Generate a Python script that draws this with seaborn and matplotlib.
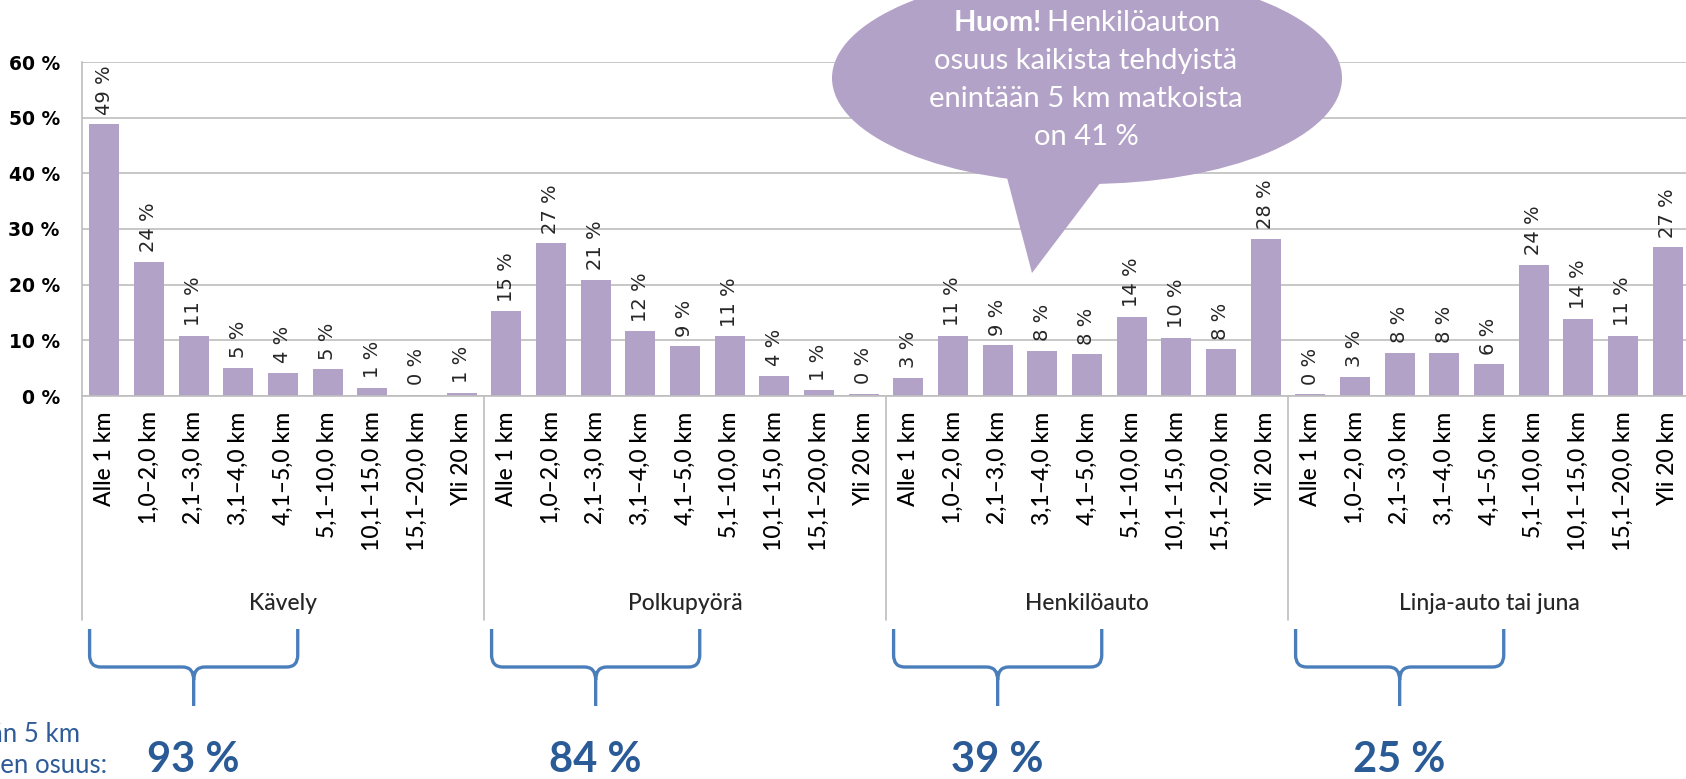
import numpy as np
import pandas as pd
import matplotlib
matplotlib.use('Agg')
import matplotlib.pyplot as plt
import seaborn as sns
from matplotlib.patches import Ellipse, Polygon, PathPatch
from matplotlib.path import Path
from matplotlib.transforms import blended_transform_factory

# data (share of trips, %)
groups = ['Kävely', 'Polkupyörä', 'Henkilöauto', 'Linja-auto tai juna']
distances = ['Alle 1 km', '1,0–2,0 km', '2,1–3,0 km', '3,1–4,0 km', '4,1–5,0 km',
             '5,1–10,0 km', '10,1–15,0 km', '15,1–20,0 km', 'Yli 20 km']
walk = [48.8, 24.1, 10.8, 5.1, 4.2, 4.8, 1.4, 0.2, 0.6]
bike = [15.2, 27.4, 20.9, 11.6, 8.9, 10.7, 3.6, 1.0, 0.4]
car = [3.2, 10.8, 9.1, 8.1, 7.5, 14.2, 10.5, 8.4, 28.2]
transit = [0.3, 3.4, 7.8, 7.8, 5.7, 23.6, 13.8, 10.8, 26.7]
short_share = [93, 84, 39, 25]
y_ticks = [0, 10, 20, 30, 40, 50, 60]

W, H = 1686, 779
purple = '#B3A2C7'
grid_col = '#BEBEBE'
blue = '#2B5B97'

sns.set_theme(style='white')
plt.rcParams['font.family'] = ['Lato', 'DejaVu Sans']
plt.rcParams['mathtext.fontset'] = 'custom'
plt.rcParams['mathtext.rm'] = 'Lato'
plt.rcParams['mathtext.bf'] = 'Lato:bold'

df = pd.DataFrame({
    'group': np.repeat(groups, len(distances)),
    'distance': distances * len(groups),
    'share': walk + bike + car + transit,
})
df['pos'] = np.arange(len(df))

fig = plt.figure(figsize=(W / 100, H / 100), dpi=100)
ax = fig.add_axes([82 / W, 1 - 396 / H, 1608 / W, 334 / H])
sns.barplot(data=df, x='pos', y='share', color=purple, saturation=1,
            width=0.67, linewidth=0, ax=ax)

ax.set_xlim(-0.5, len(df) - 0.5)
ax.set_ylim(0, 60)
ax.set_axisbelow(True)
ax.yaxis.grid(True, color=grid_col, linewidth=1.2)
ax.xaxis.grid(False)
for s in ['top', 'right']:
    ax.spines[s].set_visible(False)
for s in ['left', 'bottom']:
    ax.spines[s].set_color(grid_col)
    ax.spines[s].set_linewidth(1.2)

ax.set_yticks(y_ticks)
ax.set_yticklabels([f'{t} %' for t in y_ticks], fontweight='bold',
                   fontsize=13.5, family='DejaVu Sans')
ax.set_xticks(df['pos'])
ax.set_xticklabels(df['distance'], rotation=90, fontsize=16.5, fontweight='medium')
ax.tick_params(axis='y', length=0, pad=16, colors='black')
ax.tick_params(axis='x', length=0, pad=11, colors='black')
ax.set_xlabel('')
ax.set_ylabel('')

# value labels
ax.bar_label(ax.containers[0], labels=[f'{v:.0f} %' for v in df['share']],
             rotation=90, padding=7, fontsize=14, family='DejaVu Sans')

# group separators and group names below the tick labels
tr = blended_transform_factory(ax.transData, ax.transAxes)
for b in np.arange(len(groups) + 1) * len(distances) - 0.5:
    ax.plot([b, b], [0, (396 - 620) / 334], transform=tr, color=grid_col,
            linewidth=1.2, clip_on=False)
for i, g in enumerate(groups):
    ax.text(i * len(distances) + 4, (396 - 603) / 334, g, transform=tr,
            ha='center', va='center', fontsize=16.5, fontweight='medium')

# braces + share of trips up to 5 km
ftr = blended_transform_factory(ax.transData, fig.transFigure)


def fy(p):
    return 1 - p / H


for i, val in enumerate(short_share):
    x0 = i * len(distances)
    xl, xm, xr = x0 - 0.33, x0 + 2, x0 + 4.33
    d = 0.25
    verts = [(xl, fy(629)), (xl, fy(655)), (xl, fy(667)), (xl + d, fy(667)),
             (xm - d, fy(667)), (xm, fy(667)), (xm, fy(680)), (xm, fy(706)),
             (xm, fy(680)), (xm, fy(667)), (xm + d, fy(667)),
             (xr - d, fy(667)), (xr, fy(667)), (xr, fy(655)), (xr, fy(629))]
    codes = [Path.MOVETO, Path.LINETO, Path.CURVE3, Path.CURVE3,
             Path.LINETO, Path.CURVE3, Path.CURVE3, Path.LINETO,
             Path.MOVETO, Path.CURVE3, Path.CURVE3,
             Path.LINETO, Path.CURVE3, Path.CURVE3, Path.LINETO]
    brace = PathPatch(Path(verts, codes), transform=ftr, facecolor='none',
                      edgecolor='#4A7EBB', linewidth=2.4, clip_on=False)
    ax.add_patch(brace)
    ax.text(xm, fy(772), f'{val} %', transform=ftr, ha='center', va='baseline',
            fontsize=30, fontweight='bold', color=blue)

# left caption, cut by the image edge as in the original slide
fig.text(80 / W, fy(742), 'Enintään 5 km', ha='right', va='baseline',
         fontsize=18.5, color='#2F5C99')
fig.text(107 / W, fy(773), 'matkojen osuus:', ha='right', va='baseline',
         fontsize=18.5, color='#2F5C99')

# speech bubble
bubble = Ellipse((1087 / W, fy(78)), 510 / W, 212 / H, transform=fig.transFigure,
                 facecolor=purple, edgecolor='none', zorder=5)
tail = Polygon([(1005 / W, fy(170)), (1110 / W, fy(170)), (1032 / W, fy(273))],
               closed=True, transform=fig.transFigure, facecolor=purple,
               edgecolor='none', zorder=5)
fig.add_artist(bubble)
fig.add_artist(tail)
bubble_lines = [r'$\mathbf{Huom!}$Henkilöauton', 'osuus kaikista tehdyistä',
                'enintään 5 km matkoista', 'on 41 %']
for line, base in zip(bubble_lines, [31, 69, 107, 145]):
    fig.text(1086 / W, fy(base), line, ha='center', va='baseline',
             fontsize=21, color='white', zorder=6)

fig.savefig('out.png', dpi=100)
